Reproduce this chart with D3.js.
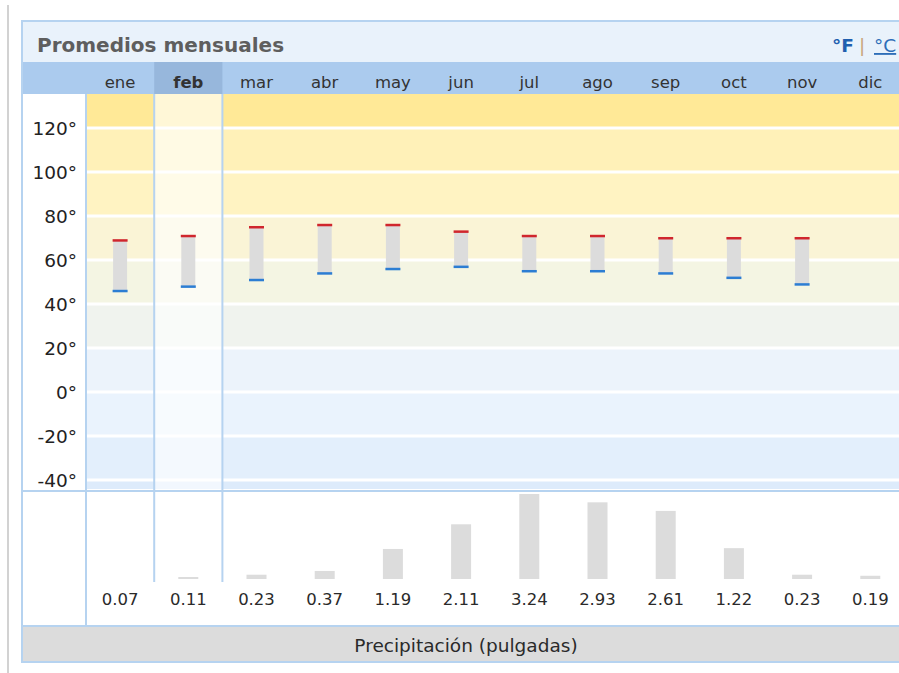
<!DOCTYPE html>
<html><head><meta charset="utf-8">
<script src="https://cdn.jsdelivr.net/npm/d3@7"></script>
<style>
body{margin:0;background:#fff}
svg{display:block}
text{font-family:"DejaVu Sans",Verdana,sans-serif}
</style>
</head><body>
<svg id="chart" width="899" height="673"></svg>
<script>
// ---- data ----
const months = ["ene","feb","mar","abr","may","jun","jul","ago","sep","oct","nov","dic"];
const highF = [69,71,75,76,76,73,71,71,70,70,70,null];
const lowF  = [46,48,51,54,56,57,55,55,54,52,49,null];
const precip = [0.07,0.11,0.23,0.37,1.19,2.11,3.24,2.93,2.61,1.22,0.23,0.19];
const tempTicks = [120,100,80,60,40,20,0,-20,-40];
const bandEdges = [-40,-20,0,20,40,60,80,100,120];
const bandColors = ["#DDEBFB","#E3EFFC","#EAF3FD","#ECF3FB","#F0F3EE","#F4F5E3","#FAF4D6","#FFF3C2","#FFF1B8","#FFE997"];
const titleText = "Promedios mensuales";
const precipTitle = "Precipitación (pulgadas)";
const highlightMonth = "feb";

// ---- layout ----
const svg = d3.select("#chart");
const L = 21, T = 20, titleB = 62, monthB = 94, tempB = 490, precB = 626, footB = 662, axisR = 86, colW = 68.2;
const R = 911;
const border = "#B6D3F0";

const x = d3.scaleBand().domain(months).range([axisR, axisR + colW * months.length]).padding(0);
const y = d3.scaleLinear().domain([-44.1, 135.45]).range([489, monthB]);
const yP = d3.scaleLinear().domain([0.07, 3.24]).range([0, 85]).clamp(true);
const precBase = 579;
const cx = m => x(m) + x.bandwidth() / 2;

// outer gray line
svg.append("line").attr("x1",8).attr("x2",8).attr("y1",5).attr("y2",673).attr("stroke","#D2D2D2").attr("stroke-width",2);

// title band
svg.append("rect").attr("x",L).attr("y",T).attr("width",R-L).attr("height",titleB-T).attr("fill","#E9F2FB");
svg.append("text").attr("x",37).attr("y",52).attr("font-size","20px").attr("font-weight","bold").attr("fill","#5E5E5E").text(titleText);
svg.append("text").attr("x",832).attr("y",52).attr("font-size","18.5px").attr("font-weight","bold").attr("fill","#1F5FAF").text("°F");
svg.append("text").attr("x",859).attr("y",52).attr("font-size","18.5px").attr("fill","#C9A57C").text("|");
svg.append("text").attr("x",874).attr("y",52).attr("font-size","18.5px").attr("fill","#2E6EB8").attr("text-decoration","underline").text("°C");

// month band
svg.append("rect").attr("x",L).attr("y",titleB).attr("width",R-L).attr("height",monthB-titleB).attr("fill","#ABCBEE");
svg.append("rect").attr("x",x(highlightMonth)).attr("y",titleB).attr("width",x.bandwidth()).attr("height",monthB-titleB).attr("fill","#97B7DC");
svg.selectAll("text.month").data(months).join("text").attr("class","month")
  .attr("x",d=>cx(d)).attr("y",88).attr("text-anchor","middle").attr("font-size","16.5px")
  .attr("font-weight",d=>d===highlightMonth?"bold":"normal").attr("fill","#333").text(d=>d);

// temperature bands
const dom = y.domain();
const edges = [dom[0], ...bandEdges, dom[1]];
svg.selectAll("rect.band").data(bandColors).join("rect").attr("class","band")
  .attr("x",axisR).attr("width",R-axisR)
  .attr("y",(d,i)=>y(edges[i+1])).attr("height",(d,i)=>y(edges[i])-y(edges[i+1]))
  .attr("fill",d=>d);
// gridlines
svg.selectAll("line.grid").data(tempTicks).join("line").attr("class","grid")
  .attr("x1",axisR).attr("x2",R).attr("y1",d=>y(d)).attr("y2",d=>y(d)).attr("stroke","#fff").attr("stroke-width",3);

// highlight column overlay
svg.append("rect").attr("x",x(highlightMonth)).attr("y",monthB).attr("width",x.bandwidth()).attr("height",tempB-monthB).attr("fill","#fff").attr("opacity",0.62);

// axis column
svg.append("rect").attr("x",L).attr("y",monthB).attr("width",axisR-L).attr("height",precB-monthB).attr("fill","#fff");
svg.selectAll("text.ytick").data(tempTicks).join("text").attr("class","ytick")
  .attr("x",77).attr("y",d=>y(d)).attr("dy","0.36em").attr("text-anchor","end").attr("font-size","18.5px").attr("fill","#222").text(d=>d+"°");

// precip area
svg.append("rect").attr("x",axisR).attr("y",tempB).attr("width",R-axisR).attr("height",precB-tempB).attr("fill","#fff");

// temperature bars
const tdata = months.map((m,i)=>({m, hi:highF[i], lo:lowF[i]})).filter(d=>d.hi!=null && d.lo!=null);
svg.selectAll("rect.tbar").data(tdata).join("rect").attr("class","tbar")
  .attr("x",d=>cx(d.m)-7).attr("width",14).attr("y",d=>y(d.hi)).attr("height",d=>y(d.lo)-y(d.hi)).attr("fill","#DCDCDC");
svg.selectAll("rect.hcap").data(tdata).join("rect").attr("class","hcap")
  .attr("x",d=>cx(d.m)-7.5).attr("width",15).attr("y",d=>y(d.hi)-1).attr("height",2.5).attr("fill","#D0262D");
svg.selectAll("rect.lcap").data(tdata).join("rect").attr("class","lcap")
  .attr("x",d=>cx(d.m)-7.5).attr("width",15).attr("y",d=>y(d.lo)-1).attr("height",2.5).attr("fill","#2C7DD3");

// precipitation bars and labels
const pdata = months.map((m,i)=>({m, v:precip[i]}));
svg.selectAll("rect.pbar").data(pdata).join("rect").attr("class","pbar")
  .attr("x",d=>cx(d.m)-10).attr("width",20).attr("y",d=>precBase-Math.max(yP(d.v),d.v>0.1?2:0)).attr("height",d=>Math.max(yP(d.v),d.v>0.1?2:0)).attr("fill","#DCDCDC");
svg.selectAll("text.pval").data(pdata).join("text").attr("class","pval")
  .attr("x",d=>cx(d.m)).attr("y",605).attr("text-anchor","middle").attr("font-size","16.5px").attr("fill","#2A2A2A").text(d=>d.v.toFixed(2));

// footer
svg.append("rect").attr("x",L).attr("y",precB).attr("width",R-L).attr("height",footB-precB).attr("fill","#DCDCDC");
svg.append("text").attr("x",(L+R)/2).attr("y",652).attr("text-anchor","middle").attr("font-size","18.5px").attr("fill","#2A2A2A").text(precipTitle);

// borders
const hl = (yy,x1,x2)=>svg.append("line").attr("x1",x1).attr("x2",x2).attr("y1",yy).attr("y2",yy).attr("stroke",border).attr("stroke-width",2);
const vl = (xx,y1,y2)=>svg.append("line").attr("x1",xx).attr("x2",xx).attr("y1",y1).attr("y2",y2).attr("stroke",border).attr("stroke-width",2);
hl(T+1,L,R); hl(tempB+1,L,R); hl(precB,L,R); hl(footB,L,R);
vl(L+1,T,footB); vl(axisR,monthB,precB);
vl(x(highlightMonth),monthB,582); vl(x(highlightMonth)+x.bandwidth(),monthB,582);
</script>
</body></html>
